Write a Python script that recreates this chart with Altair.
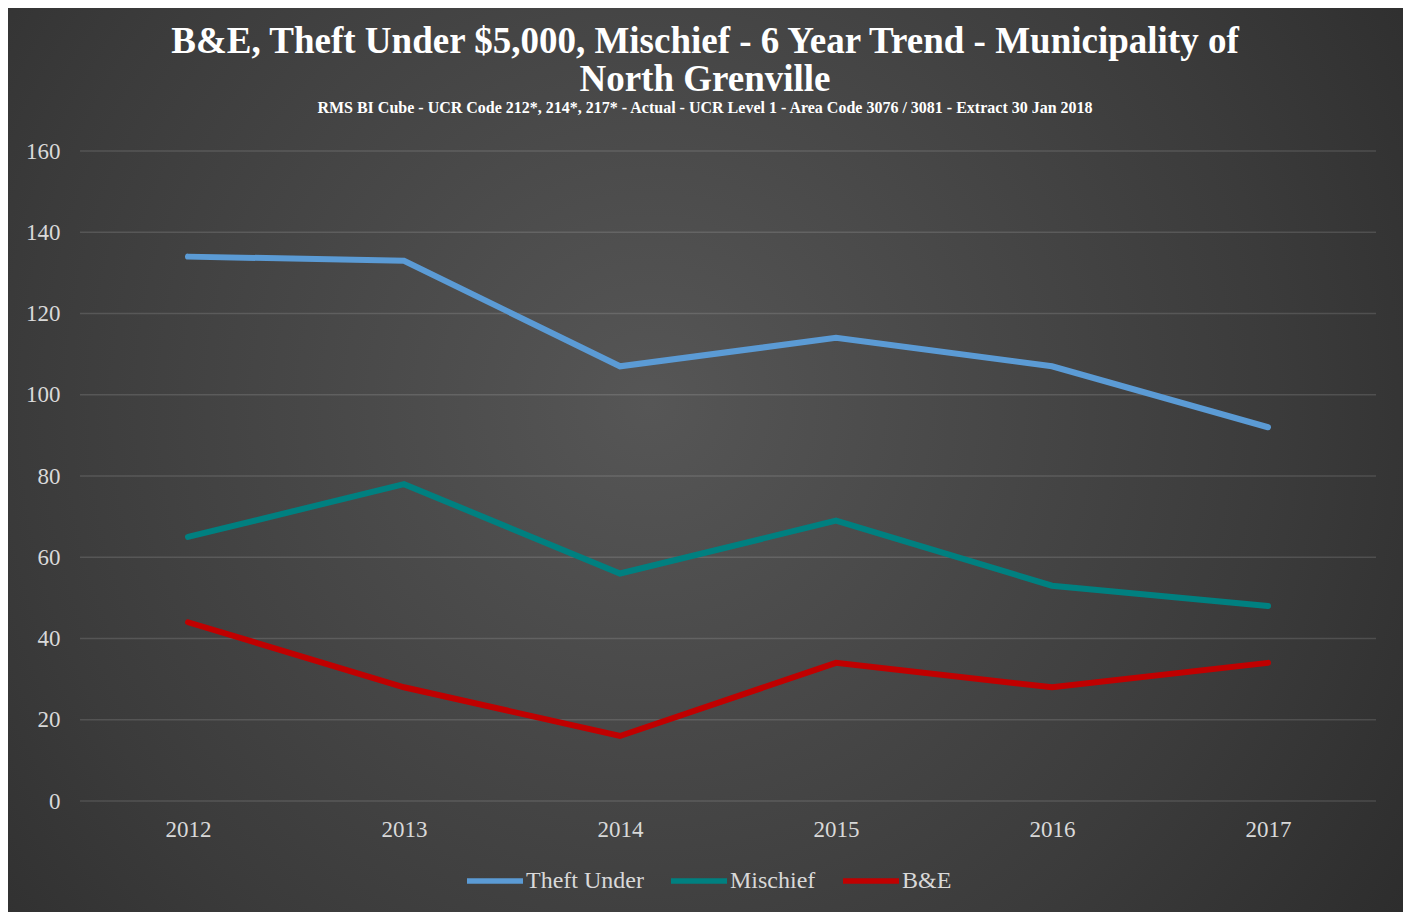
import altair as alt
import pandas as pd

years = ["2012", "2013", "2014", "2015", "2016", "2017"]
series_names = ["Theft Under", "Mischief", "B&E"]
theft_under = [134, 133, 107, 114, 107, 92]
mischief = [65, 78, 56, 69, 53, 48]
b_and_e = [44, 28, 16, 34, 28, 34]
series_colors = ["#5b9bd5", "#008080", "#c00000"]
y_ticks = [0, 20, 40, 60, 80, 100, 120, 140, 160]

title_lines = ["B&E, Theft Under $5,000, Mischief - 6 Year Trend - Municipality of", "North Grenville"]
subtitle_text = "RMS BI Cube - UCR Code 212*, 214*, 217* - Actual - UCR Level 1 - Area Code 3076 / 3081 - Extract 30 Jan 2018"

rows = []
for name, vals in zip(series_names, [theft_under, mischief, b_and_e]):
    for yr, v in zip(years, vals):
        rows.append({"Year": yr, "Series": name, "Count": v})
df = pd.DataFrame(rows)
grid_df = pd.DataFrame({"Count": y_ticks})

W, H = 1296, 650
PL, PT, PR, PB = 72, 143, 27, 111
SERIF = "Liberation Serif"

bg = alt.Chart(alt.Data(values=[{}])).mark_rect(
    fill=alt.RadialGradient(
        gradient="radial",
        stops=[alt.GradientStop(color="#565656", offset=0),
               alt.GradientStop(color="#3b3b3b", offset=0.6),
               alt.GradientStop(color="#262626", offset=1)],
        x1=0.46, y1=0.46, r1=0, x2=0.46, y2=0.46, r2=0.75,
    )
).encode(
    x=alt.value(-PL), x2=alt.value(W + PR),
    y=alt.value(-PT), y2=alt.value(H + PB),
)

grid = alt.Chart(grid_df).mark_rule(color="#ffffff", opacity=0.13, strokeWidth=1.5).encode(
    y=alt.Y("Count:Q"),
)

y_enc = alt.Y("Count:Q", scale=alt.Scale(domain=[0, 160], nice=False),
              axis=alt.Axis(title=None, values=y_ticks, grid=False, labelPadding=20, zindex=1))

lines = alt.Chart(df).mark_line(strokeWidth=6, strokeCap="round", strokeJoin="miter").encode(
    x=alt.X("Year:O", sort=years, scale=alt.Scale(type="point", padding=0.5),
            axis=alt.Axis(title=None, labelAngle=0, labelPadding=17, grid=False, zindex=1)),
    y=y_enc,
    color=alt.Color("Series:N", sort=series_names,
                    scale=alt.Scale(domain=series_names, range=series_colors),
                    legend=alt.Legend(title=None, orient="none", direction="horizontal",
                                      legendX=384, legendY=699,
                                      symbolType="stroke", symbolSize=3136,
                                      symbolStrokeWidth=5.5, labelOffset=0,
                                      columnPadding=16)),
    order=alt.Order("Year:O"),
)

chart = alt.layer(bg, grid, lines).properties(
    width=W, height=H,
    autosize=alt.AutoSizeParams(type="none"),
    padding={"left": PL, "top": PT, "right": PR, "bottom": PB},
    title=alt.TitleParams(
        text=title_lines, subtitle=subtitle_text,
        font=SERIF, fontSize=37, fontWeight="bold", color="#ffffff", lineHeight=38,
        subtitleFont=SERIF, subtitleFontSize=16, subtitleFontWeight="bold",
        subtitleColor="#ffffff", subtitlePadding=1,
        anchor="middle", dx=-23, offset=-109,
    ),
).configure(background="#262626").configure_view(stroke=None).configure_axis(
    domain=False, ticks=False,
    labelFont=SERIF, labelFontSize=23, labelColor="#d9d9d9",
).configure_legend(
    labelFont=SERIF, labelFontSize=24, labelColor="#d9d9d9",
)

chart.save("out.html", embed_options={"renderer": "svg", "actions": False})
